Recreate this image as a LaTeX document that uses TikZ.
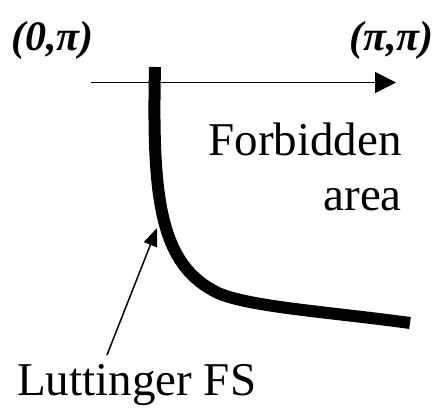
\documentclass[tikz,border=0pt]{standalone}
\usepackage{fontspec}
\setmainfont{Liberation Serif}
\usetikzlibrary{arrows.meta}
\tikzset{
  lbl/.style={inner sep=0pt, font=\rmfamily\fontsize{47}{55}\selectfont},
  corner/.style={inner sep=0pt, font=\rmfamily\fontsize{42}{48}\selectfont\bfseries\itshape},
  axis/.style={line width=1.5pt, -{Triangle[length=21pt,width=21pt]}},
  pointer/.style={line width=1.5pt, -{Triangle[length=18pt,width=14pt]}},
  fs/.style={line width=12pt, line join=round}
}
\begin{document}
\begin{tikzpicture}[x=1pt,y=-1pt]
\useasboundingbox (0,0) rectangle (446,407);
% corner labels
\node[corner, anchor=base west] (c0) at (11,50) {(0,π)};
\node[corner, anchor=base east] (cpi) at (434,50) {(π,π)};
% axis
\coordinate (axs) at (91,82.5);
\coordinate (axe) at (396,82.5);
\draw[axis] (axs) -- (axe);
% Fermi surface curve
\draw[fs] (155,67) .. controls (152,200) and (160,265) .. (218,293)
          .. controls (250,307) and (330,312) .. (410,323);
% labels
\node[lbl, anchor=base east] (forb) at (402,155) {Forbidden};
\node[lbl, anchor=base east] (area) at (402,210) {area};
\node[lbl, anchor=base west] (lutt) at (17,395) {Luttinger FS};
% pointer
\coordinate (ltail) at (107,355);
\coordinate (ltip) at (157,228);
\draw[pointer] (ltail) -- (ltip);
\end{tikzpicture}
\end{document}
